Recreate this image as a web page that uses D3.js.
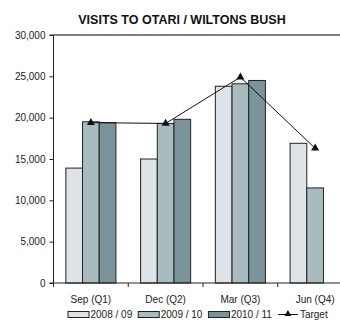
<!DOCTYPE html>
<html>
<head>
<meta charset="utf-8">
<script src="https://cdn.jsdelivr.net/npm/d3@7"></script>
<style>
  html, body { margin: 0; padding: 0; background: #fff; }
  svg { display: block; font-family: "Liberation Sans", Arial, sans-serif; }
</style>
</head>
<body>
<svg id="chart" width="340" height="320"></svg>
<script>
// Quarterly visitor counts per financial year, plus the target line
const quarters = ["Sep (Q1)", "Dec (Q2)", "Mar (Q3)", "Jun (Q4)"];
const seriesNames = ["2008 / 09", "2009 / 10", "2010 / 11"];
const visits2008 = [13900, 15000, 23800, 16900];
const visits2009 = [19500, 19300, 24100, 11500];
const visits2010 = [19400, 19800, 24500, null];
const target = [19400, 19300, 24900, 16300];
const yTicks = [0, 5000, 10000, 15000, 20000, 25000, 30000];

const seriesValues = [visits2008, visits2009, visits2010];
const colors = ["#dde3e6", "#a8bbbf", "#7b949c"];

const svg = d3.select("#chart");
const margin = { left: 53.5, top: 35, bottom: 283 };
const plotRight = 352.5; // the frame runs past the right edge of the view

const x = d3.scaleBand().domain(quarters).range([margin.left, plotRight]).paddingInner(0).paddingOuter(0);
const xs = d3.scaleBand().domain(seriesNames).range([0, x.bandwidth()]).paddingOuter(0.74).paddingInner(0);
const y = d3.scaleLinear().domain([0, 30000]).range([margin.bottom, margin.top]);

// Title
svg.append("text")
  .attr("x", 182).attr("y", 24)
  .attr("text-anchor", "middle")
  .attr("font-size", 12.5).attr("font-weight", "bold")
  .attr("fill", "#111")
  .text("VISITS TO OTARI / WILTONS BUSH");

// Top frame line
svg.append("line")
  .attr("x1", margin.left).attr("x2", plotRight)
  .attr("y1", y(30000)).attr("y2", y(30000))
  .attr("stroke", "#555").attr("stroke-width", 1.3);

// Bars
const groups = svg.append("g").selectAll("g")
  .data(quarters)
  .join("g")
  .attr("transform", d => `translate(${x(d)},0)`);

groups.selectAll("rect")
  .data((q, qi) => seriesNames.map((s, si) => ({ s, si, v: seriesValues[si][qi] })).filter(d => d.v != null))
  .join("rect")
  .attr("x", d => xs(d.s))
  .attr("width", xs.bandwidth())
  .attr("y", d => y(d.v))
  .attr("height", d => y(0) - y(d.v))
  .attr("fill", d => colors[d.si])
  .attr("stroke", "#222")
  .attr("stroke-width", 1);

// Y axis
const yAxis = svg.append("g")
  .attr("transform", `translate(${margin.left},0)`)
  .call(d3.axisLeft(y).tickValues(yTicks).tickFormat(d3.format(",")).tickSize(4).tickPadding(4));
yAxis.select(".domain").attr("stroke", "#222").attr("d", `M-4,${y(30000)}H0V${y(0)}`);
yAxis.selectAll(".tick line").attr("stroke", "#222");
yAxis.selectAll(".tick text").attr("font-size", 10).attr("fill", "#222")
  .attr("font-family", "Liberation Sans, Arial, sans-serif");

// X axis with ticks at category boundaries
const xAxisG = svg.append("g").attr("transform", `translate(0,${margin.bottom})`);
xAxisG.append("line")
  .attr("x1", margin.left - 4).attr("x2", plotRight)
  .attr("stroke", "#222").attr("stroke-width", 1);
xAxisG.selectAll("line.tk")
  .data(quarters)
  .join("line").attr("class", "tk")
  .attr("x1", d => x(d)).attr("x2", d => x(d))
  .attr("y1", 0).attr("y2", 4)
  .attr("stroke", "#222");
xAxisG.selectAll("text")
  .data(quarters)
  .join("text")
  .attr("x", d => x(d) + x.bandwidth() / 2)
  .attr("y", 20)
  .attr("text-anchor", "middle")
  .attr("font-size", 10).attr("fill", "#222")
  .text(d => d);

// Target line with triangle markers
const tx = d => x(d) + x.bandwidth() / 2;
svg.append("path")
  .datum(quarters.map((q, i) => [tx(q), y(target[i])]))
  .attr("d", d3.line())
  .attr("fill", "none").attr("stroke", "#111").attr("stroke-width", 1);
const tri = d3.symbol().type(d3.symbolTriangle).size(28);
svg.append("g").selectAll("path")
  .data(quarters)
  .join("path")
  .attr("transform", (q, i) => `translate(${tx(q)},${y(target[i])})`)
  .attr("d", tri)
  .attr("fill", "#111");

// Legend
const legend = svg.append("g").attr("transform", "translate(0,318)");
let lx = 68;
seriesNames.forEach((name, i) => {
  legend.append("rect")
    .attr("x", lx).attr("y", -6.5).attr("width", 21).attr("height", 6)
    .attr("fill", colors[i]).attr("stroke", "#222").attr("stroke-width", 1);
  const t = legend.append("text")
    .attr("x", lx + 22.5).attr("y", 0)
    .attr("font-size", 10).attr("fill", "#222")
    .text(name);
  lx += 22.5 + t.node().getComputedTextLength() + 6;
});
legend.append("line")
  .attr("x1", lx).attr("x2", lx + 20).attr("y1", -3.5).attr("y2", -3.5)
  .attr("stroke", "#111");
legend.append("path")
  .attr("transform", `translate(${lx + 10},-4)`)
  .attr("d", d3.symbol().type(d3.symbolTriangle).size(20))
  .attr("fill", "#111");
legend.append("text")
  .attr("x", lx + 22).attr("y", 0)
  .attr("font-size", 10).attr("fill", "#222")
  .text("Target");
</script>
</body>
</html>
